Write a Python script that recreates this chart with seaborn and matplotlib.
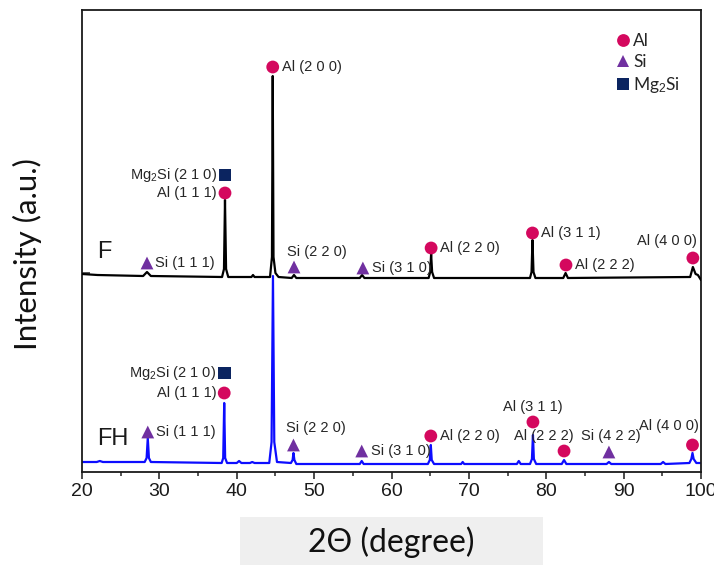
import pandas as pd
import matplotlib.pyplot as plt
import seaborn as sns
from matplotlib.patches import Rectangle

# --- XRD pattern of sample F (black) ---
two_theta_F = [20.0, 22.0, 27.9, 28.4, 28.9, 38.1, 38.35, 38.48, 38.62, 38.9,
               41.9, 42.1, 42.3, 44.3, 44.55, 44.65, 44.75, 45.0, 45.4, 47.1,
               47.4, 47.7, 55.9, 56.2, 56.5, 64.8, 65.0, 65.12, 65.25, 65.5,
               77.9, 78.1, 78.22, 78.35, 78.6, 82.2, 82.5, 82.8, 98.6, 98.95,
               99.3, 99.6, 100.0]
intensity_F = [198, 197, 196, 200, 196, 195, 203, 272, 203, 195,
               195, 197, 195, 195, 215, 396, 215, 199, 195, 194,
               197, 194, 194, 197, 194, 194, 200, 218, 200, 194,
               194, 200, 232, 200, 194, 194, 199, 194, 195, 205,
               198, 197, 192]

# --- XRD pattern of sample FH (blue) ---
two_theta_FH = [20.0, 21.9, 22.3, 22.7, 28.1, 28.35, 28.5, 28.65, 28.9, 38.05,
                38.25, 38.38, 38.5, 38.75, 40.0, 40.3, 40.6, 41.7, 42.0, 42.3,
                44.2, 44.5, 44.68, 44.85, 45.2, 47.0, 47.22, 47.33, 47.45, 47.7,
                55.9, 56.15, 56.4, 64.7, 64.95, 65.08, 65.2, 65.5, 69.0, 69.2,
                69.4, 76.2, 76.45, 76.7, 77.9, 78.15, 78.28, 78.4, 78.7, 82.0,
                82.3, 82.6, 87.8, 88.1, 88.4, 94.8, 95.1, 95.4, 98.5, 98.75,
                98.9, 99.05, 99.4, 100.0]
intensity_FH = [10, 10, 11, 10, 10, 14, 34, 14, 10, 9,
                14, 69, 14, 9, 9, 11, 9, 9, 10, 9,
                9, 30, 196, 30, 10, 9, 12, 19, 12, 8,
                8, 11, 8, 8, 12, 27, 12, 8, 8, 10,
                8, 8, 11, 8, 8, 13, 37, 13, 8, 8,
                12, 8, 8, 10, 8, 8, 10, 8, 9, 13,
                19, 13, 9, 9]

# --- peak markers / labels ---
phase_F = ['Al', 'Mg$_2$Si', 'Al', 'Si', 'Si', 'Si', 'Al', 'Al', 'Al', 'Al']
peak_pos_F = [44.65, 38.48, 38.48, 28.4, 47.4, 56.3, 65.12, 78.22, 82.55, 98.95]
mark_I_F = [405, 297, 279, 209, 205, 204, 224, 239, 207, 214]
label_F = ['Al (2 0 0)', 'Mg$_2$Si (2 1 0)', 'Al (1 1 1)', 'Si (1 1 1)', 'Si (2 2 0)',
           'Si (3 1 0)', 'Al (2 2 0)', 'Al (3 1 1)', 'Al (2 2 2)', 'Al (4 0 0)']

phase_FH = ['Mg$_2$Si', 'Al', 'Si', 'Si', 'Si', 'Al', 'Al', 'Al', 'Si', 'Al']
peak_pos_FH = [38.38, 38.38, 28.5, 47.33, 56.15, 65.08, 78.28, 82.3, 88.1, 98.9]
mark_I_FH = [99, 79, 40, 27, 21, 36, 50, 21, 20, 27]
label_FH = ['Mg$_2$Si (2 1 0)', 'Al (1 1 1)', 'Si (1 1 1)', 'Si (2 2 0)', 'Si (3 1 0)',
            'Al (2 2 0)', 'Al (3 1 1)', 'Al (2 2 2)', 'Si (4 2 2)', 'Al (4 0 0)']

phases = ['Al', 'Si', 'Mg$_2$Si']

# label offsets in pixels (dx, dy, ha)
place_F = [(9, 0, 'left'), (-8, 0, 'right'), (-8, 0, 'right'), (8, 0, 'left'),
           (-7, 15, 'left'), (9, 0, 'left'), (9, 0, 'left'), (9, 0, 'left'),
           (9, 0, 'left'), (4, 17, 'right')]
place_FH = [(-8, 0, 'right'), (-8, 0, 'right'), (8, 0, 'left'), (-7, 17, 'left'),
            (9, 0, 'left'), (9, 0, 'left'), (0, 15, 'center'), (10, 15, 'right'),
            (2, 16, 'center'), (6, 19, 'right')]

sns.set_theme(style='ticks')
plt.rcParams['font.family'] = ['Liberation Sans', 'DejaVu Sans']
plt.rcParams['mathtext.fontset'] = 'custom'
plt.rcParams['mathtext.rm'] = 'Liberation Sans'
plt.rcParams['mathtext.it'] = 'Liberation Sans'

fig = plt.figure(figsize=(7.14, 5.65), dpi=100)
ax = fig.add_axes([82 / 714, 93 / 565, 619 / 714, 462 / 565])

df_F = pd.DataFrame({'two_theta': two_theta_F, 'I': intensity_F})
df_FH = pd.DataFrame({'two_theta': two_theta_FH, 'I': intensity_FH})
sns.lineplot(data=df_FH, x='two_theta', y='I', color='#0d0dff', lw=1.6,
             sort=False, estimator=None, ax=ax, zorder=2)
sns.lineplot(data=df_F, x='two_theta', y='I', color='black', lw=1.6,
             sort=False, estimator=None, ax=ax, zorder=3)

marks = pd.DataFrame({'two_theta': peak_pos_F + peak_pos_FH,
                      'I': mark_I_F + mark_I_FH,
                      'phase': phase_F + phase_FH})
sns.scatterplot(data=marks, x='two_theta', y='I', hue='phase', style='phase',
                hue_order=phases, style_order=phases,
                palette={'Al': '#d4085e', 'Si': '#7030a0', 'Mg$_2$Si': '#0b2460'},
                markers={'Al': 'o', 'Si': '^', 'Mg$_2$Si': 's'},
                s=85, linewidth=0, ax=ax, zorder=4)

for xs, ys, labs, places in [(peak_pos_F, mark_I_F, label_F, place_F),
                             (peak_pos_FH, mark_I_FH, label_FH, place_FH)]:
    for x, y, lab, (dx, dy, ha) in zip(xs, ys, labs, places):
        ax.annotate(lab, (x, y), xytext=(dx, dy), textcoords='offset pixels',
                    ha=ha, va='center', fontsize=10.5, color='#262626', zorder=5)

ax.text(21.94, 214, 'F', fontsize=17, color='#1a1a1a', ha='left', va='baseline')
ax.text(21.94, 27, 'FH', fontsize=17, color='#1a1a1a', ha='left', va='baseline')

sns.move_legend(ax, 'upper left', bbox_to_anchor=(0.862, 0.951), frameon=False,
                title=None, handlelength=0.8, handletextpad=0.2, labelspacing=0.3,
                borderpad=0, borderaxespad=0,
                prop={'family': ['Lato', 'DejaVu Sans'], 'size': 12.5})

ax.set_xlim(20, 100)
ax.set_ylim(0, 462)
ax.set_xticks(range(20, 101, 10))
ax.set_xticks(range(25, 100, 10), minor=True)
ax.set_yticks([199])
ax.tick_params(axis='x', which='major', direction='out', length=5, width=1.1,
               labelsize=14, pad=3, colors='#1a1a1a')
ax.tick_params(axis='x', which='minor', direction='out', length=2.8, width=1.1)
ax.tick_params(axis='y', direction='in', length=6, width=1.1, labelleft=False)
for sp in ax.spines.values():
    sp.set_visible(True)
    sp.set_linewidth(1.3)
    sp.set_color('#1a1a1a')

ax.set_xlabel('2Θ (degree)', fontsize=23, family=['Lato', 'DejaVu Sans'], color='#111111')
ax.xaxis.set_label_coords(0.499, -0.118)
ax.set_ylabel('Intensity (a.u.)', fontsize=22.5, family=['Lato', 'DejaVu Sans'], color='#111111')
ax.yaxis.set_label_coords(-0.064, 0.472)

# light grey box behind the x label
fig.patches.append(Rectangle((240 / 714, 0), 303 / 714, 48 / 565,
                             transform=fig.transFigure, facecolor='#efefef',
                             edgecolor='none', zorder=-1))

fig.savefig('out.png', dpi=100)
